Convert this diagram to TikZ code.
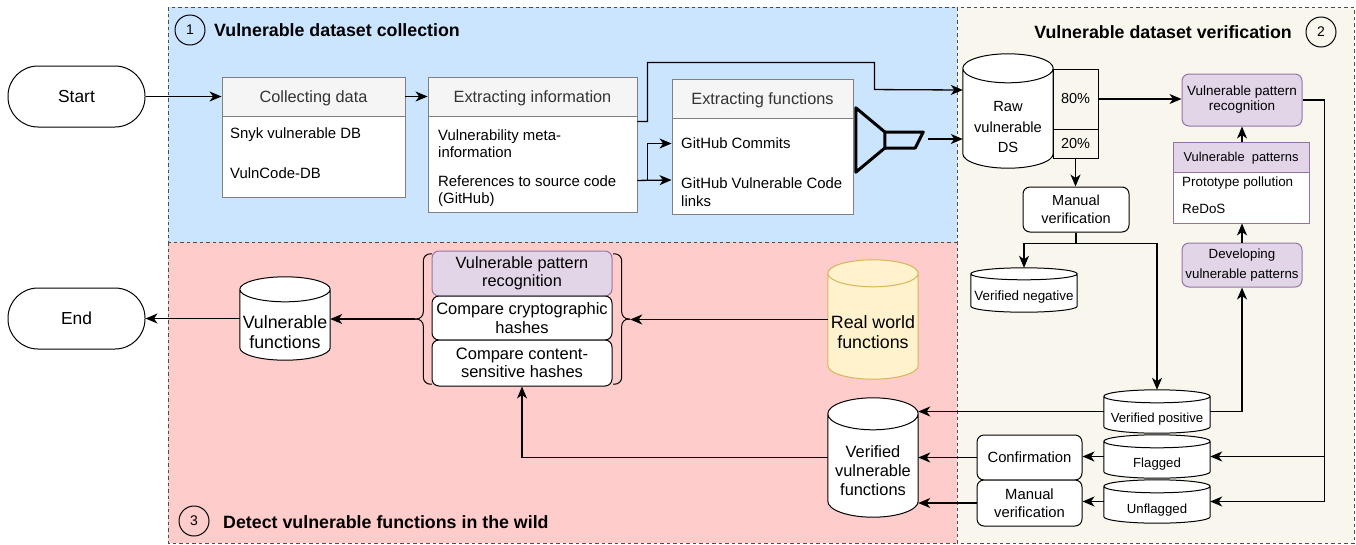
\documentclass[tikz,border=0pt]{standalone}
\usepackage{fontspec}
\setmainfont{Liberation Sans}
\usetikzlibrary{arrows.meta,calc}
\newcommand\setfs[2]{\fontsize{#1}{#2}\selectfont}
\definecolor{bluebg}{HTML}{CCE5FF}
\definecolor{beigebg}{HTML}{F9F7ED}
\definecolor{pinkbg}{HTML}{FFCCCC}
\definecolor{regline}{HTML}{4D4D4D}
\definecolor{hdrfill}{HTML}{F5F5F5}
\definecolor{hdrline}{HTML}{808080}
\definecolor{hdrtext}{HTML}{333333}
\definecolor{purfill}{HTML}{E1D5E7}
\definecolor{purline}{HTML}{9673A6}
\definecolor{yelfill}{HTML}{FFF2CC}
\definecolor{yelline}{HTML}{D6B656}
\pgfdeclarelayer{bg}
\pgfdeclarelayer{mid}
\pgfsetlayers{bg,mid,main}
\newcommand\cylbody[3]{%
  \path[#3] let \p1=(#1.south west), \p2=(#1.north east), \n1={(\x2-\x1)/2} in
    (\x1,\y2-#2pt) -- (\x1,\y1+#2pt)
    arc[start angle=180,end angle=360,x radius={\n1*1pt},y radius=#2pt]
    -- (\x2,\y2-#2pt)
    arc[start angle=0,end angle=180,x radius={\n1*1pt},y radius=#2pt] -- cycle
    (\x1,\y2-#2pt) arc[start angle=180,end angle=360,x radius={\n1*1pt},y radius=#2pt];}
\begin{document}
\begin{tikzpicture}[x=1pt,y=-1pt,
  region/.style={draw=regline, dash pattern=on 3.5pt off 3pt, line width=0.9pt},
  listbox/.style={draw=hdrline, fill=white, line width=0.9pt, inner sep=0},
  hdr/.style={draw=hdrline, fill=hdrfill, text=hdrtext, line width=0.9pt, inner sep=0, text depth=0pt, font=\setfs{16.3}{19}},
  item/.style={inner sep=0, align=left, anchor=west, font=\setfs{14.9}{17.5}},
  rbox/.style={draw, fill=white, rounded corners=7pt, line width=1pt, align=center, inner sep=0},
  purbox/.style={rbox, fill=purfill, draw=purline},
  cyl/.style={inner sep=0},
  cyltxt/.style 2 args={font=\setfs{#1}{#2}, align=center, inner sep=0},
  cylw/.style={draw, fill=white, line width=1pt},
  cyly/.style={draw=yelline, fill=yelfill, line width=1pt},
  term/.style={draw, fill=white, rounded corners=30pt, line width=1pt, inner sep=0, minimum width=137pt, minimum height=61pt, font=\setfs{17.4}{20}},
  numc/.style={circle, draw, line width=1pt, minimum size=30pt, inner sep=0, font=\setfs{14}{16}},
  ttl/.style={inner sep=0, font=\bfseries\setfs{17.8}{20}},
  splitbox/.style={draw, line width=1pt, inner sep=0, font=\setfs{14.5}{17}},
  brc/.style={draw, line width=1pt, rounded corners=7pt},
  arr/.style={draw, line width=1.3pt, -{Stealth[length=12pt,width=10pt,inset=3.5pt]}}
]
\useasboundingbox (0,0) rectangle (1356,544);
\begin{pgfonlayer}{bg}
\path[region, fill=bluebg] (168,7) rectangle (957,242);
\path[region, fill=pinkbg] (168,242) rectangle (957,543);
\path[region, fill=beigebg] (957,7) rectangle (1354,543);
\end{pgfonlayer}

% terminals and titles
\node[term] (start) at (76.5,96.5) {Start};
\node[term] (end) at (76.5,318.5) {End};
\node[numc] (c1) at (190,30) {1};
\node[ttl, anchor=west] (t1) at (214,30) {Vulnerable dataset collection};
\node[numc] (c2) at (1321,32) {2};
\node[ttl, anchor=east] (t2) at (1292,32) {Vulnerable dataset verification};
\node[numc] (c3) at (194,521) {3};
\node[ttl, anchor=west] (t3) at (223,522) {Detect vulnerable functions in the wild};

% collecting data
\node[listbox, minimum width=183pt, minimum height=120pt] (cd) at (313.5,137) {};
\node[hdr, minimum width=183pt, minimum height=39pt, anchor=north] (cdh) at (cd.north) {Collecting data};
\node[item] (cd1) at (230,135) {Snyk vulnerable DB};
\node[item] (cd2) at (230,173) {VulnCode-DB};

% extracting information
\node[listbox, minimum width=209pt, minimum height=135pt] (info) at (532.5,144.5) {};
\node[hdr, minimum width=209pt, minimum height=39pt, anchor=north] (infoh) at (info.north) {Extracting information};
\node[item] (info1) at (438,143.5) {Vulnerability meta-\\information};
\node[item] (info2) at (438,191) {References to source code\\(GitHub)};

% extracting functions
\node[listbox, minimum width=181pt, minimum height=135pt] (fun) at (762.5,146.5) {};
\node[hdr, minimum width=181pt, minimum height=39pt, anchor=north] (funh) at (fun.north) {Extracting functions};
\node[item] (fun1) at (681,143.5) {GitHub Commits};
\node[item] (fun2) at (681,192) {GitHub Vulnerable Code\\links};

% funnel
\node[inner sep=0, minimum width=67pt, minimum height=64pt] (funnel) at (889.5,140) {};
\draw[line width=3pt, line join=round] (funnel.north west) -- ($(funnel.west)+(29,-8)$) -- ($(funnel.west)+(29,8)$) -- (funnel.south west) -- cycle;
\draw[line width=3pt, line join=round] ($(funnel.west)+(29,-8)$) -- ($(funnel.east)+(0,-8)$) -- ($(funnel.east)+(-8,8)$) -- ($(funnel.west)+(29,8)$);

% verification area
\node[cyl, minimum width=90pt, minimum height=114pt, label={[cyltxt={14.7}{20.5}, yshift=-16.5pt]center:Raw\\vulnerable\\DS}] (raw) at (1008,111) {};
\node[splitbox, minimum width=45pt, minimum height=60pt] (s80) at (1075.5,99) {80\%};
\node[splitbox, minimum width=45pt, minimum height=29pt] (s20) at (1075.5,143.5) {20\%};
\node[rbox, minimum width=106pt, minimum height=45pt, font=\setfs{14.5}{17.5}] (mv1) at (1076,209.5) {Manual\\verification};
\node[cyl, minimum width=106pt, minimum height=44pt, label={[cyltxt={13.4}{16}, yshift=-7pt]center:Verified negative}] (vneg) at (1024,290) {};
\node[cyl, minimum width=106pt, minimum height=43pt, label={[cyltxt={13.2}{16}, yshift=-8pt]center:Verified positive}] (vp) at (1157,411.5) {};
\node[cyl, minimum width=106pt, minimum height=43pt, label={[cyltxt={13.2}{16}, yshift=-8pt]center:Flagged}] (flag) at (1157,456.5) {};
\node[cyl, minimum width=106pt, minimum height=43pt, label={[cyltxt={13.2}{16}, yshift=-9pt]center:Unflagged}] (unflag) at (1157,501.5) {};
\node[purbox, minimum width=120pt, minimum height=52pt, font=\setfs{13.5}{15}] (vpr) at (1242,100) {Vulnerable pattern\\recognition};
\node[listbox, draw=purline, minimum width=136pt, minimum height=81pt] (pat) at (1241,182.5) {};
\node[hdr, draw=purline, fill=purfill, text=black, font=\setfs{12.9}{15}, minimum width=136pt, minimum height=30pt, anchor=north] (path) at (pat.north) {Vulnerable~ patterns};
\node[item, font=\setfs{13.4}{16}] (pat1) at (1182,183) {Prototype pollution};
\node[item, font=\setfs{13.4}{16}] (pat2) at (1182,209) {ReDoS};
\node[purbox, minimum width=120pt, minimum height=44pt, font=\setfs{13.3}{20}] (dev) at (1242,265) {Developing\\vulnerable patterns};
\node[rbox, minimum width=105pt, minimum height=45pt, font=\setfs{14.8}{17}] (conf) at (1029.5,457.5) {Confirmation};
\node[rbox, minimum width=105pt, minimum height=46pt, font=\setfs{14.8}{18}] (mv2) at (1029.5,503) {Manual\\verification};

% detect area
\node[cyl, minimum width=90pt, minimum height=119pt, label={[cyltxt={16.4}{19}, yshift=-13.5pt]center:Verified\\vulnerable\\functions}] (vvf) at (873,457.5) {};
\node[cyl, minimum width=90pt, minimum height=119pt, label={[cyltxt={17.8}{20}, yshift=-12.5pt]center:Real world\\functions}] (rw) at (873,319.5) {};
\node[cyl, minimum width=90pt, minimum height=83pt, label={[cyltxt={17.8}{20}, yshift=-13.5pt]center:Vulnerable\\functions}] (vfl) at (285,318.5) {};
\node[inner sep=0, minimum width=215pt, minimum height=130pt] (grp) at (522.5,319) {};
\node[purbox, minimum width=180pt, minimum height=45pt, font=\setfs{16.3}{18.5}] (gvpr) at (522,273.5) {Vulnerable pattern\\recognition};
\node[rbox, minimum width=180pt, minimum height=44pt, font=\setfs{16.5}{18.5}] (gcr) at (522,318) {Compare cryptographic\\hashes};
\node[rbox, minimum width=180pt, minimum height=46pt, font=\setfs{16.5}{18.5}] (gcs) at (522,363) {Compare content-\\sensitive hashes};
\draw[brc] ($(grp.north west)+(17,0)$) -- ($(grp.north west)+(8.5,0)$) -- ($(grp.west)+(8.5,0)$) -- (grp.west);
\draw[brc] (grp.west) -- ($(grp.west)+(8.5,0)$) -- ($(grp.south west)+(8.5,0)$) -- ($(grp.south west)+(17,0)$);
\draw[brc] ($(grp.north east)+(-17,0)$) -- ($(grp.north east)+(-8.5,0)$) -- ($(grp.east)+(-8.5,0)$) -- (grp.east);
\draw[brc] (grp.east) -- ($(grp.east)+(-8.5,0)$) -- ($(grp.south east)+(-8.5,0)$) -- ($(grp.south east)+(-17,0)$);

% cylinder bodies
\begin{pgfonlayer}{mid}
\cylbody{raw}{14.5}{cylw}
\cylbody{vneg}{6}{cylw}
\cylbody{vp}{6.5}{cylw}
\cylbody{flag}{6.5}{cylw}
\cylbody{unflag}{6.5}{cylw}
\cylbody{vvf}{16}{cylw}
\cylbody{rw}{13.5}{cyly}
\cylbody{vfl}{12.5}{cylw}
\end{pgfonlayer}

% connectors
\draw[arr] (start.east) -- (cdh.west);
\draw[arr] (cdh.east) -- (infoh.west);
\draw[arr] ($(info.north east)+(0,45)$) -- ++(10,0) -- ++(0,-59) -- ++(227,0) -- ++(0,27) -- (raw.west |- 0,90);
\draw[arr] ($(info.south east)+(0,-32)$) -- (fun.west |- 0,180);
\draw[arr] ($(info.south east)+(10,-32)$) |- (fun.west |- fun1.west);
\draw[arr] ($(funnel.east)+(5,-1)$) -- (raw.west |- 0,139);
\draw[arr] (s80.east) -- (vpr.west |- s80.east);
\draw[arr] (s20.south) -- (s20.south |- mv1.north);
\draw[arr] (mv1.south) -- ++(0,11) -| (vneg.north);
\draw[arr] (mv1.south) -- ++(0,11) -| (vp.north);
\draw[arr] (vp.east) -| (dev.south);
\draw[arr] (dev.north) -- (dev.north |- pat.south);
\draw[arr] (vpr.south |- pat.north) -- (vpr.south);
\draw[arr] (vpr.east) -- ++(22,0) |- (flag.east);
\draw[arr] (vpr.east) -- ++(22,0) |- (unflag.east);
\draw[arr] (flag.west) -- (conf.east |- flag.west);
\draw[arr] (unflag.west) -- (mv2.east |- unflag.west);
\draw[arr] (conf.west) -- (vvf.east |- conf.west);
\draw[arr] (mv2.west) -- (vvf.east |- mv2.west);
\draw[arr] (vp.west) -- (vvf.east |- vp.west);
\draw[arr] (vvf.west) -| (gcs.south);
\draw[arr] (rw.west) -- (grp.east |- rw.west);
\draw[arr] (grp.west) -- (vfl.east |- grp.west);
\draw[arr] (vfl.west) -- (end.east |- vfl.west);
\end{tikzpicture}
\end{document}
